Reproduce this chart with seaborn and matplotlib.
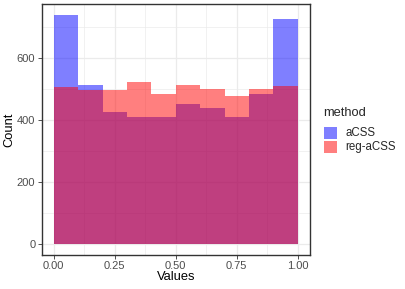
import numpy as np
import pandas as pd
import matplotlib
matplotlib.use("Agg")
import matplotlib.pyplot as plt
from matplotlib.patches import Rectangle
import seaborn as sns

# -----------------------------
# Data
# -----------------------------
bin_edges = [0.0, 0.1, 0.2, 0.3, 0.4, 0.5, 0.6, 0.7, 0.8, 0.9, 1.0]
acss_counts = [736, 513, 425, 408, 409, 451, 436, 409, 482, 725]
reg_acss_counts = [505, 497, 497, 521, 481, 513, 499, 476, 499, 509]
methods = ["aCSS", "reg-aCSS"]
colors = {"aCSS": "blue", "reg-aCSS": "red"}

centers = [(a + b) / 2 for a, b in zip(bin_edges[:-1], bin_edges[1:])]
df = pd.DataFrame({
    "Values": centers * 2,
    "count": acss_counts + reg_acss_counts,
    "method": ["aCSS"] * len(centers) + ["reg-aCSS"] * len(centers),
})

sns.set_theme(style="white")
plt.rcParams["font.family"] = ["Liberation Sans", "DejaVu Sans"]

W, H = 405, 289
fig = plt.figure(figsize=(W / 100, H / 100), dpi=100)
ax = fig.add_axes([41.5 / W, 1 - 255 / H, (310 - 41.5) / W, (255 - 4) / H])

# grid (theme_bw style)
for v in [0.125, 0.375, 0.625, 0.875]:
    ax.axvline(v, color="#ebebeb", lw=0.5, zorder=0)
for v in [100, 300, 500, 700]:
    ax.axhline(v, color="#ebebeb", lw=0.5, zorder=0)
for v in [0, 0.25, 0.5, 0.75, 1.0]:
    ax.axvline(v, color="#ebebeb", lw=0.9, zorder=0)
for v in [0, 200, 400, 600]:
    ax.axhline(v, color="#ebebeb", lw=0.9, zorder=0)

for m in methods:
    sub = df[df["method"] == m]
    sns.histplot(data=sub, x="Values", weights="count", bins=bin_edges,
                 color=colors[m], alpha=0.5, edgecolor="none", linewidth=0,
                 ax=ax, zorder=2)

ax.set_xlim(-0.05, 1.05)
ax.set_ylim(-36.8, 772.8)
ax.set_xticks([0, 0.25, 0.5, 0.75, 1.0])
ax.set_xticklabels(["0.00", "0.25", "0.50", "0.75", "1.00"])
ax.set_yticks([0, 200, 400, 600])
ax.tick_params(axis="both", which="both", length=3, width=0.6, color="#333333",
               labelsize=8, labelcolor="#4d4d4d", pad=1.5, direction="out",
               bottom=True, left=True)
for s in ax.spines.values():
    s.set_color("#333333")
    s.set_linewidth(1.0)
ax.set_xlabel("Values", fontsize=9.3, color="black")
ax.set_ylabel("Count", fontsize=9.3, color="black")
ax.xaxis.set_label_coords(0.5, -(271.5 - 255) / 251)
ax.yaxis.set_label_coords(-(41.5 - 15.5) / 268.5, 0.5)

# legend (ggplot style, drawn by hand)
fig.text(323 / W, 1 - 113 / H, "method", fontsize=9.3, va="center", ha="left")
for i, m in enumerate(methods):
    y0 = 126.5 + i * 14
    fig.patches.append(Rectangle((324 / W, 1 - (y0 + 12.5) / H), 12.5 / W, 12.5 / H,
                                 transform=fig.transFigure, facecolor=colors[m],
                                 alpha=0.5, edgecolor="none"))
    fig.text(345 / W, 1 - (y0 + 6.25) / H, m, fontsize=8.3, va="center", ha="left")

fig.savefig("out.png", dpi=100)
